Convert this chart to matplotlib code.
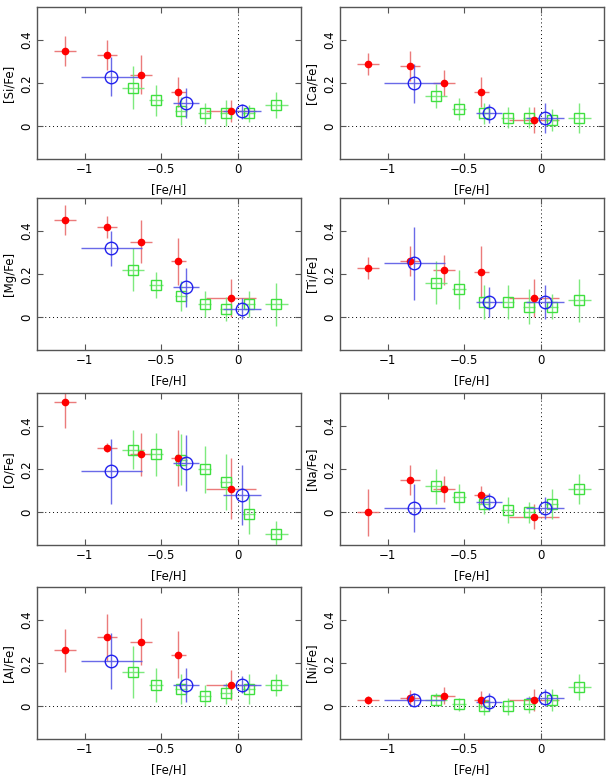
import numpy as np
import matplotlib.pyplot as plt

# [Fe/H] bins for the three samples
feh_red = [-1.13, -0.855, -0.635, -0.39, -0.046]
feh_red_err = [0.072, 0.063, 0.072, 0.05, 0.165]
feh_blue = [-0.825, -0.338, 0.027]
feh_blue_err = [0.2, 0.083, 0.123]
feh_green = [-0.685, -0.535, -0.372, -0.218, -0.078, 0.068, 0.248]
feh_green_err = [0.072, 0.045, 0.04, 0.044, 0.038, 0.04, 0.075]

# [X/Fe] values and errors: red, blue, green
si_r = [0.35, 0.33, 0.24, 0.16, 0.07]
si_r_e = [0.07, 0.07, 0.09, 0.07, 0.05]
si_b = [0.23, 0.11, 0.07]
si_b_e = [0.09, 0.07, 0.035]
si_g = [0.18, 0.12, 0.07, 0.06, 0.06, 0.06, 0.10]
si_g_e = [0.10, 0.07, 0.065, 0.05, 0.06, 0.04, 0.06]

ca_r = [0.29, 0.28, 0.20, 0.16, 0.03]
ca_r_e = [0.05, 0.07, 0.06, 0.07, 0.06]
ca_b = [0.20, 0.06, 0.04]
ca_b_e = [0.09, 0.045, 0.07]
ca_g = [0.14, 0.08, 0.06, 0.04, 0.04, 0.03, 0.04]
ca_g_e = [0.055, 0.05, 0.05, 0.05, 0.05, 0.05, 0.07]

mg_r = [0.45, 0.42, 0.35, 0.26, 0.09]
mg_r_e = [0.07, 0.05, 0.10, 0.11, 0.09]
mg_b = [0.32, 0.14, 0.04]
mg_b_e = [0.08, 0.09, 0.05]
mg_g = [0.22, 0.15, 0.10, 0.06, 0.04, 0.06, 0.06]
mg_g_e = [0.10, 0.06, 0.07, 0.06, 0.055, 0.06, 0.10]

ti_r = [0.23, 0.26, 0.22, 0.21, 0.09]
ti_r_e = [0.05, 0.07, 0.07, 0.12, 0.09]
ti_b = [0.25, 0.07, 0.07]
ti_b_e = [0.17, 0.07, 0.08]
ti_g = [0.16, 0.13, 0.07, 0.07, 0.05, 0.05, 0.08]
ti_g_e = [0.10, 0.09, 0.08, 0.08, 0.08, 0.06, 0.10]

o_r = [0.51, 0.30, 0.27, 0.25, 0.11]
o_r_e = [0.12, 0.02, 0.10, 0.13, 0.14]
o_b = [0.19, 0.23, 0.08]
o_b_e = [0.15, 0.13, 0.14]
o_g = [0.29, 0.27, 0.245, 0.20, 0.14, -0.01, -0.10]
o_g_e = [0.09, 0.10, 0.12, 0.11, 0.13, 0.09, 0.06]

na_r = [0.0, 0.15, 0.11, 0.08, -0.02]
na_r_e = [0.11, 0.07, 0.06, 0.04, 0.06]
na_b = [0.02, 0.05, 0.02]
na_b_e = [0.11, 0.04, 0.05]
na_g = [0.12, 0.07, 0.04, 0.01, 0.0, 0.04, 0.11]
na_g_e = [0.08, 0.06, 0.05, 0.06, 0.05, 0.07, 0.07]

al_r = [0.26, 0.32, 0.30, 0.24, 0.10]
al_r_e = [0.10, 0.11, 0.11, 0.11, 0.07]
al_b = [0.21, 0.10, 0.10]
al_b_e = [0.13, 0.08, 0.04]
al_g = [0.16, 0.10, 0.08, 0.05, 0.06, 0.08, 0.10]
al_g_e = [0.12, 0.08, 0.07, 0.05, 0.05, 0.07, 0.05]

ni_r = [0.03, 0.04, 0.05, 0.03, 0.03]
ni_r_e = [0.02, 0.035, 0.04, 0.04, 0.05]
ni_b = [0.03, 0.02, 0.04]
ni_b_e = [0.03, 0.04, 0.04]
ni_g = [0.03, 0.01, 0.0, 0.0, 0.01, 0.03, 0.09]
ni_g_e = [0.03, 0.03, 0.04, 0.04, 0.04, 0.05, 0.06]

panels = [
    ('[Si/Fe]', si_r, si_r_e, si_b, si_b_e, si_g, si_g_e),
    ('[Ca/Fe]', ca_r, ca_r_e, ca_b, ca_b_e, ca_g, ca_g_e),
    ('[Mg/Fe]', mg_r, mg_r_e, mg_b, mg_b_e, mg_g, mg_g_e),
    ('[Ti/Fe]', ti_r, ti_r_e, ti_b, ti_b_e, ti_g, ti_g_e),
    ('[O/Fe]', o_r, o_r_e, o_b, o_b_e, o_g, o_g_e),
    ('[Na/Fe]', na_r, na_r_e, na_b, na_b_e, na_g, na_g_e),
    ('[Al/Fe]', al_r, al_r_e, al_b, al_b_e, al_g, al_g_e),
    ('[Ni/Fe]', ni_r, ni_r_e, ni_b, ni_b_e, ni_g, ni_g_e),
]

plt.rcParams['font.family'] = 'DejaVu Sans'
plt.rcParams['font.size'] = 8.5

fig = plt.figure(figsize=(6.08, 7.76), dpi=100)

W, H = 608.0, 776.0
lefts = [37, 340]
tops = [7, 198, 393, 587]
aw, ah = 264, 152

frame_col = '#555555'

for i, (lab, yr, yre, yb, ybe, yg, yge) in enumerate(panels):
    row, col = i // 2, i % 2
    ax = fig.add_axes([lefts[col] / W, 1 - (tops[row] + ah) / H, aw / W, ah / H])

    ax.axhline(0, color='k', ls=(0, (1, 3)), lw=0.7, zorder=1)
    ax.axvline(0, color='k', ls=(0, (1, 3)), lw=0.7, zorder=1)

    # red: filled dots
    ax.errorbar(feh_red, yr, xerr=feh_red_err, yerr=yre, fmt='none',
                ecolor='#e86464', elinewidth=1.0, capsize=0, alpha=0.85, zorder=2)
    ax.plot(feh_red, yr, 'o', color='red', ms=4.5, mec='red', zorder=5)

    # green: open squares
    ax.errorbar(feh_green, yg, xerr=feh_green_err, yerr=yge, fmt='none',
                ecolor='#70e870', elinewidth=1.0, capsize=0, alpha=0.9, zorder=3)
    ax.plot(feh_green, yg, 's', mfc='none', mec='#40e040', ms=7, mew=1.0, zorder=4)

    # blue: open circles
    ax.errorbar(feh_blue, yb, xerr=feh_blue_err, yerr=ybe, fmt='none',
                ecolor='#5a5ae6', elinewidth=1.0, capsize=0, alpha=0.9, zorder=4)
    ax.plot(feh_blue, yb, 'o', mfc='none', mec='#2222ee', ms=9, mew=1.0, zorder=6)

    ax.set_xlim(-1.31, 0.41)
    ax.set_ylim(-0.152, 0.554)
    ax.set_xticks([-1, -0.5, 0])
    ax.set_xticklabels(['\u22121', '\u22120.5', '0'])
    ax.set_yticks([0, 0.2, 0.4])
    ax.set_yticklabels(['0', '0.2', '0.4'], rotation=90, va='center')
    ax.tick_params(direction='in', length=4, top=True, right=True,
                   color=frame_col, width=0.8, pad=3)
    for s in ax.spines.values():
        s.set_color(frame_col)
        s.set_linewidth(1.0)
    ax.set_xlabel('[Fe/H]', labelpad=5)
    ax.set_ylabel(lab, labelpad=3)

fig.savefig('out.png', dpi=100)
